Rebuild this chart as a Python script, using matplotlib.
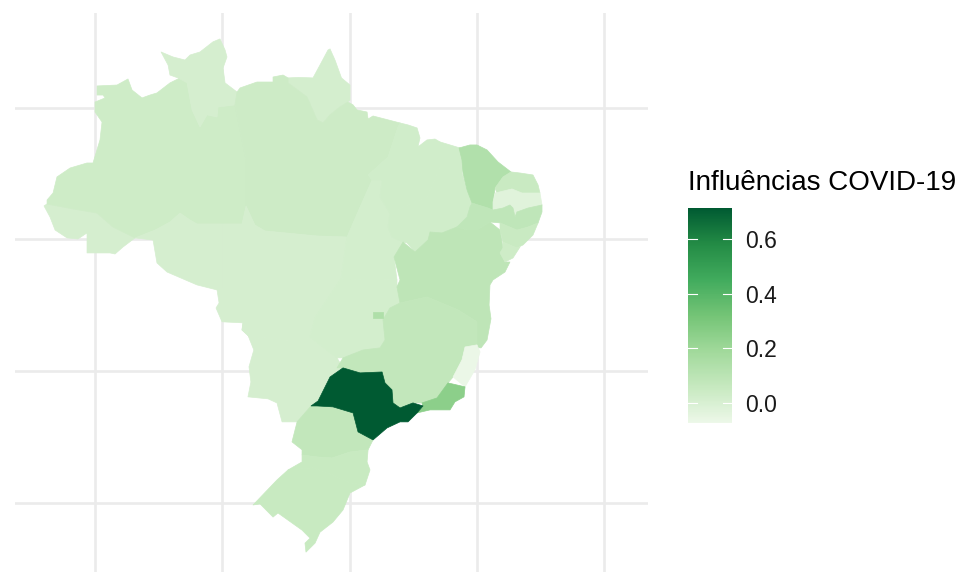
import matplotlib
matplotlib.use("Agg")
import matplotlib.pyplot as plt
from matplotlib.colors import LinearSegmentedColormap, Normalize
from matplotlib.cm import ScalarMappable

plt.rcParams["font.family"] = ["Liberation Sans", "DejaVu Sans"]

# Outlines of the states, as (longitude, latitude)
AC = [(-74.01,-7.46),(-73.54,-8.3),(-73.14,-9.29),(-72.2,-9.89),(-71.34,-9.97),(-70.63,-9.51),(-70.63,-11.03),(-68.82,-11.03),(-68.43,-11.11),(-67.8,-10.58),(-66.86,-9.89),(-68.59,-9.06),(-69.84,-8.0),(-71.73,-7.69),(-73.77,-7.31)]
AM = [(-73.77,-7.31),(-73.77,-7.01),(-73.3,-6.48),(-72.99,-5.26),(-71.96,-4.58),(-70.63,-4.2),(-70.16,-4.2),(-69.61,-2.45),(-69.45,-1.09),(-70,-.33),(-70,.43),(-69.21,.74),(-69.37,.96),(-69.84,.96),(-69.84,1.65),(-68.27,1.72),(-67.41,2.18),(-67.09,1.34),(-66.31,.74),(-65.68,.96),(-65.13,1.12),(-64.11,1.88),(-63.32,2.26),(-62.77,1.88),(-62.38,-.17),(-61.75,-1.47),(-61.2,-.55),(-60.41,-.71),(-60.33,.05),(-59,.21),(-58.6,-1.69),(-58.13,-3.97),(-58.13,-7.46),(-58.45,-8.83),(-61.98,-8.83),(-62.53,-8.53),(-63.32,-8.0),(-64.11,-8.68),(-65.28,-9.29),(-66.86,-9.89),(-68.59,-9.06),(-69.84,-8.0),(-71.73,-7.69)]
RR = [(-64.81,4.23),(-63.87,3.85),(-62.93,3.62),(-62.53,4.0),(-61.75,4.23),(-60.73,5.0),(-60.18,5.22),(-59.78,4.38),(-59.63,3.85),(-59.94,3.01),(-59.78,1.88),(-58.84,1.19),(-59,.21),(-60.33,.05),(-60.41,-.71),(-61.2,-.55),(-61.75,-1.47),(-62.38,-.17),(-62.77,1.88),(-63.48,2.26),(-64.11,2.48),(-64.26,3.24)]
AP = [(-54.83,2.26),(-54.0,2.3),(-52.87,2.26),(-52.32,3.24),(-51.69,4.38),(-51.53,4.46),(-51.14,3.62),(-50.63,2.26),(-49.96,1.72),(-49.96,.58),(-50.12,.43),(-50.75,.05),(-51.53,-.55),(-52.08,-1.16),(-52.55,-.93),(-53.34,.81),(-54.83,1.88)]
PA = [(-59,.21),(-58.84,1.19),(-58.6,1.5),(-57.27,1.95),(-56.01,1.95),(-56.01,2.33),(-55.22,2.48),(-54.83,2.26),(-54.83,1.88),(-53.34,.81),(-52.55,-.93),(-52.08,-1.16),(-51.53,-.55),(-50.75,.05),(-50.12,.43),(-49.72,.21),(-49.41,-.17),(-48.62,-.33),(-48.54,-.86),(-48.15,-.63),(-46.03,-1.16),(-46.19,-1.47),(-46.97,-3.74),(-48.54,-5.11),(-48.23,-5.49),(-49.17,-7.54),(-50.2,-9.82),(-52.55,-9.74),(-56.64,-9.36),(-57.43,-8.91),(-58.13,-7.46),(-58.13,-3.97),(-58.6,-1.69)]
MA = [(-46.03,-1.16),(-45.4,-1.31),(-44.69,-1.54),(-44.46,-2.3),(-44.62,-2.98),(-43.91,-2.45),(-43.28,-2.38),(-42.89,-2.6),(-42.89,-3.36),(-42.89,-4.5),(-43.91,-6.78),(-45.79,-7.54),(-46.82,-8.0),(-47.6,-6.78),(-47.44,-5.49),(-48.23,-5.49),(-48.54,-5.11),(-46.97,-3.74),(-46.19,-1.47)]
PI = [(-42.89,-2.6),(-41.31,-3.06),(-41.08,-4.2),(-41.16,-4.96),(-40.76,-6.25),(-40.37,-7.24),(-40.53,-7.54),(-40.76,-8.3),(-41.55,-9.06),(-42.73,-9.51),(-43.67,-9.44),(-43.83,-10.05),(-44.85,-10.96),(-45.48,-10.27),(-45.79,-10.2),(-46.66,-9.82),(-46.97,-9.06),(-46.82,-8.0),(-45.79,-7.54),(-43.91,-6.78),(-42.89,-4.5),(-42.89,-3.36)]
CE = [(-41.39,-3.06),(-40.53,-2.83),(-39.98,-2.83),(-39.19,-3.21),(-38.33,-4.12),(-37.31,-4.88),(-37.94,-5.26),(-38.56,-6.1),(-38.72,-7.16),(-38.72,-7.77),(-39.11,-7.62),(-40.37,-7.24),(-40.76,-6.25),(-41.08,-4.96),(-41.16,-3.97)]
RN = [(-37.31,-4.88),(-36.6,-4.96),(-35.58,-5.11),(-35.18,-5.87),(-35.03,-6.48),(-36.6,-6.48),(-37.23,-6.17),(-38.41,-6.48),(-38.56,-6.1),(-37.94,-5.26)]
PB = [(-38.56,-6.48),(-37.23,-6.17),(-36.44,-6.48),(-35.03,-6.48),(-34.87,-7.39),(-35.97,-7.62),(-36.84,-7.92),(-36.99,-8.3),(-37.15,-7.62),(-37.39,-7.39),(-37.94,-7.62),(-38.72,-7.77),(-38.72,-7.16)]
PE = [(-40.37,-7.24),(-39.11,-7.62),(-38.72,-7.77),(-37.94,-7.62),(-37.39,-7.39),(-37.15,-7.62),(-36.99,-8.3),(-36.84,-7.92),(-35.97,-7.62),(-34.87,-7.39),(-34.87,-7.92),(-35.18,-8.75),(-35.97,-9.06),(-36.84,-9.29),(-38.17,-8.75),(-38.96,-8.68),(-39.98,-9.29),(-40.76,-9.29),(-41.55,-9.06),(-40.76,-8.3),(-40.53,-7.54)]
AL = [(-38.17,-8.75),(-36.84,-9.29),(-35.97,-9.06),(-35.18,-8.75),(-35.58,-9.67),(-36.36,-10.42),(-36.84,-10.65),(-37.94,-10.2),(-38.17,-9.29)]
SE = [(-37.94,-10.2),(-36.84,-10.65),(-36.6,-10.58),(-37.15,-11.41),(-37.78,-11.72),(-38.17,-11.03),(-37.94,-10.65)]
BA = [(-45.79,-10.2),(-44.85,-10.96),(-43.83,-10.05),(-43.67,-9.44),(-42.73,-9.51),(-41.55,-9.06),(-40.76,-9.29),(-39.98,-9.29),(-38.96,-8.68),(-38.17,-9.29),(-37.94,-10.65),(-38.17,-11.03),(-37.78,-11.72),(-37.39,-11.72),(-37.78,-12.48),(-38.72,-13.08),(-38.96,-13.46),(-39.03,-14.99),(-38.88,-16.03),(-39.19,-17.64),(-39.66,-18.24),(-40.92,-18.17),(-39.98,-16.26),(-41.47,-15.35),(-43.91,-14.37),(-46.03,-14.83),(-46.27,-13.61),(-46.03,-13.08),(-46.5,-11.34)]
MG = [(-46.03,-14.83),(-46.82,-15.21),(-47.37,-16.11),(-47.21,-17.64),(-47.6,-18.24),(-48.94,-18.4),(-50.51,-19.0),(-50.98,-19.76),(-50.51,-19.76),(-49.17,-20.14),(-47.44,-20.07),(-47.21,-20.9),(-46.66,-21.43),(-46.58,-22.42),(-46.03,-22.8),(-45.01,-22.42),(-44.3,-22.42),(-43.12,-22.04),(-42.26,-20.9),(-41.86,-20.45),(-41.16,-19.15),(-40.92,-18.17),(-39.98,-18.01),(-39.98,-16.26),(-41.47,-15.35),(-43.91,-14.37)]
ES = [(-41.86,-20.45),(-40.92,-21.2),(-40.14,-19.91),(-39.74,-18.55),(-39.98,-18.01),(-40.92,-18.17),(-41.16,-19.15)]
RJ = [(-44.3,-22.42),(-43.12,-22.04),(-42.26,-20.9),(-40.92,-21.2),(-41.0,-21.96),(-41.71,-22.34),(-42.1,-22.95),(-43.67,-22.95),(-44.69,-23.18),(-44.22,-22.72)]
SP = [(-53.02,-22.65),(-52.47,-22.27),(-51.53,-20.45),(-50.51,-19.76),(-49.17,-20.14),(-47.44,-20.07),(-47.21,-20.9),(-46.66,-21.43),(-46.58,-22.42),(-46.03,-22.8),(-45.01,-22.42),(-44.22,-22.65),(-44.69,-23.18),(-45.4,-23.86),(-46.03,-23.86),(-47.05,-24.32),(-48.15,-25.23),(-49.33,-24.62),(-49.72,-23.18),(-51.3,-22.72),(-52.55,-22.65)]
PR = [(-53.02,-22.65),(-54.12,-23.86),(-54.52,-25.38),(-53.73,-25.98),(-53.73,-26.37),(-52.55,-26.52),(-51.37,-26.6),(-49.96,-26.14),(-48.54,-25.98),(-48.15,-25.23),(-49.33,-24.62),(-49.72,-23.18),(-51.3,-22.72),(-52.55,-22.65)]
SC = [(-53.73,-26.37),(-53.73,-26.9),(-54.83,-27.51),(-52.87,-27.35),(-51.3,-27.89),(-49.96,-28.5),(-48.78,-28.65),(-48.39,-27.51),(-48.62,-26.9),(-48.54,-25.98),(-49.96,-26.14),(-51.37,-26.6),(-52.55,-26.52)]
RS = [(-54.83,-27.51),(-55.7,-28.27),(-57.58,-30.17),(-57.03,-30.09),(-56.01,-31.09),(-55.62,-30.78),(-53.73,-32.08),(-53.1,-32.69),(-53.5,-33.07),(-53.42,-33.75),(-52.71,-33.07),(-52.32,-32.24),(-51.3,-31.47),(-50.51,-30.55),(-49.96,-29.26),(-48.78,-28.65),(-49.96,-28.5),(-51.3,-27.89),(-52.87,-27.35)]
RO = [(-66.86,-9.89),(-65.28,-9.29),(-64.11,-8.68),(-63.32,-8.0),(-62.53,-8.53),(-61.98,-8.83),(-60.02,-8.83),(-60.02,-13.68),(-60.41,-13.84),(-61.98,-13.46),(-64.34,-12.48),(-65.13,-11.79),(-65.44,-10.05)]
MT = [(-60.02,-8.83),(-58.45,-8.83),(-58.13,-7.46),(-57.43,-8.91),(-56.64,-9.36),(-52.55,-9.74),(-50.2,-9.82),(-50.67,-13.0),(-52.71,-15.96),(-53.1,-17.41),(-53.89,-17.79),(-56.8,-17.41),(-57.58,-17.64),(-58.45,-16.88),(-58.37,-16.34),(-60.02,-16.26),(-60.49,-15.21),(-60.25,-14.83),(-60.41,-13.84),(-60.02,-13.68)]
MS = [(-58.37,-16.34),(-58.45,-16.88),(-57.58,-17.64),(-56.8,-17.41),(-53.89,-17.79),(-53.1,-17.41),(-50.98,-19.0),(-50.51,-19.76),(-51.53,-20.45),(-52.47,-22.27),(-53.02,-22.65),(-54.12,-23.86),(-54.44,-23.86),(-55.3,-23.86),(-55.7,-22.42),(-56.4,-22.11),(-57.98,-21.96),(-57.75,-20.83),(-57.9,-19.68),(-57.52,-18.4)]
GO = [(-50.67,-13.0),(-46.27,-13.08),(-46.27,-13.61),(-46.03,-14.83),(-46.82,-15.21),(-47.37,-16.11),(-47.21,-17.64),(-47.6,-18.24),(-48.94,-18.4),(-50.51,-19.0),(-50.98,-19.0),(-53.1,-17.41),(-52.71,-15.96)]
TO = [(-48.23,-5.49),(-47.44,-5.49),(-47.6,-6.78),(-46.82,-8.0),(-46.97,-9.06),(-46.66,-9.82),(-45.79,-10.2),(-46.5,-11.34),(-46.27,-13.08),(-50.67,-13.0),(-50.2,-9.82),(-49.17,-7.54)]
DF = [(-48.15,-15.51),(-47.37,-15.51),(-47.37,-15.96),(-48.15,-15.96)]

# Drawing order follows this list; each state has one value
STATES = ["AC","AM","RR","AP","PA","RO","MT","MS","GO","TO","MA","PI","BA","MG","CE","RN","PB","PE","AL","SE","ES","RJ","PR","SC","RS","SP","DF"]
VALUES = [0.012,0.036,0.012,0.015,0.038,0.012,0.012,0.012,0.018,0.018,0.026,0.028,0.09,0.075,0.135,0.05,-0.03,0.085,0.05,0.035,-0.065,0.25,0.075,0.055,0.055,0.713,0.14]
OUTLINES = [AC,AM,RR,AP,PA,RO,MT,MS,GO,TO,MA,PI,BA,MG,CE,RN,PB,PE,AL,SE,ES,RJ,PR,SC,RS,SP,DF]

LON_TICKS = [-70,-60,-50,-40,-30]
LAT_TICKS = [0,-10,-20,-30]
LEGEND_TICKS = [0.0,0.2,0.4,0.6]
LEGEND_TITLE = "Influências COVID-19"
FILL_MIN, FILL_MAX = -0.073, 0.713
PALETTE = ["#EDF8E9","#C7E9C0","#A1D99B","#74C476","#41AB5D","#238B45","#005A32"]

cmap = LinearSegmentedColormap.from_list("greens7", PALETTE)
norm = Normalize(FILL_MIN, FILL_MAX)

fig = plt.figure(figsize=(9.6, 5.76), dpi=100)
ax = fig.add_axes([15/960, 1-572/576, (648-15)/960, (572-13)/576])
ax.set_xlim(-76.29, -26.54)
ax.set_ylim(-35.26, 7.19)
ax.set_xticks(LON_TICKS)
ax.set_yticks(LAT_TICKS)
ax.set_xticklabels([])
ax.set_yticklabels([])
ax.tick_params(length=0)
ax.grid(True, color="#EBEBEB", lw=1.9)
ax.set_axisbelow(True)
for s in ax.spines.values():
    s.set_visible(False)

for name, outline, value in zip(STATES, OUTLINES, VALUES):
    lons = [p[0] for p in outline]
    lats = [p[1] for p in outline]
    c = cmap(norm(value))
    ax.fill(lons, lats, facecolor=c, edgecolor=c, lw=0.5, joinstyle="round", zorder=3, label=name)

cax = fig.add_axes([688/960, 1-423.3/576, 43.5/960, 215.6/576])
cb = fig.colorbar(ScalarMappable(norm=norm, cmap=cmap), cax=cax, ticks=LEGEND_TICKS)
cb.outline.set_visible(False)
cb.ax.tick_params(length=0, pad=9.5, labelsize=16.5, labelcolor="#1a1a1a")
cb.ax.set_yticklabels([f"{t:.1f}" for t in LEGEND_TICKS])
for t in LEGEND_TICKS:
    cax.plot([0, 0.2], [t, t], color="white", lw=0.8, transform=cax.get_yaxis_transform(), clip_on=False)
    cax.plot([0.8, 1], [t, t], color="white", lw=0.8, transform=cax.get_yaxis_transform(), clip_on=False)
fig.text(688/960, 1-183/576, LEGEND_TITLE, fontsize=20, color="black", ha="left", va="center")

fig.savefig("out.png", dpi=100)
